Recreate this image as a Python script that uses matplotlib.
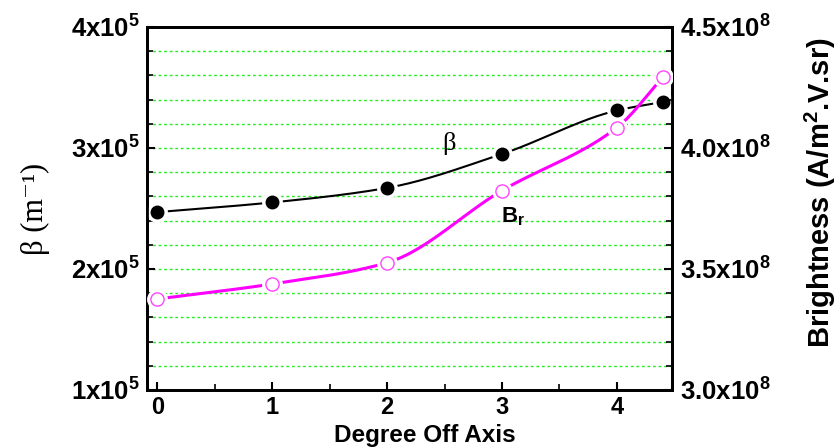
import matplotlib
matplotlib.use('Agg')
import matplotlib.pyplot as plt
import numpy as np
from matplotlib.ticker import MultipleLocator, FuncFormatter

# data
degree = [0, 1, 2, 3, 4, 4.4]
beta = [2.47e5, 2.55e5, 2.67e5, 2.95e5, 3.31e5, 3.38e5]
bright = [3.376e8, 3.438e8, 3.526e8, 3.824e8, 4.084e8, 4.292e8]

plt.rcParams['font.family'] = ['Liberation Sans', 'DejaVu Sans']
plt.rcParams['font.weight'] = 'bold'
plt.rcParams['axes.labelweight'] = 'bold'
plt.rcParams['mathtext.fontset'] = 'custom'
plt.rcParams['mathtext.rm'] = 'Liberation Sans:bold'
plt.rcParams['mathtext.it'] = 'Liberation Sans:bold'
plt.rcParams['mathtext.bf'] = 'Liberation Sans:bold'


def smooth(x, y, n=200):
    # monotone cubic (pchip-like) curve through the points, for drawing only
    x = np.asarray(x, float)
    y = np.asarray(y, float)
    h = np.diff(x)
    d = np.diff(y) / h
    m = np.zeros_like(y)
    for k in range(1, len(x) - 1):
        if d[k - 1] * d[k] > 0:
            w1 = 2 * h[k] + h[k - 1]
            w2 = h[k] + 2 * h[k - 1]
            m[k] = (w1 + w2) / (w1 / d[k - 1] + w2 / d[k])
    m[0] = d[0]
    m[-1] = d[-1]
    xs = np.linspace(x[0], x[-1], n)
    idx = np.clip(np.searchsorted(x, xs) - 1, 0, len(x) - 2)
    t = (xs - x[idx]) / h[idx]
    hh = h[idx]
    ys = ((2 * t**3 - 3 * t**2 + 1) * y[idx] + (t**3 - 2 * t**2 + t) * hh * m[idx]
          + (-2 * t**3 + 3 * t**2) * y[idx + 1] + (t**3 - t**2) * hh * m[idx + 1])
    return xs, ys


fig = plt.figure(figsize=(8.4, 4.48), dpi=100)
ax = fig.add_axes([0.175, 0.1295, 0.625, 0.8103])
ax2 = ax.twinx()

ax.set_xlim(-0.09, 4.48)
ax.set_ylim(1e5, 4e5)
ax2.set_ylim(3e8, 4.5e8)

# grid (dotted green) on every minor step of left axis
for g in np.arange(1.2e5, 4e5, 2e4):
    ax.axhline(g, color='#22ee22', ls=(0, (2, 2)), lw=1.0, zorder=0)

xs, ys = smooth(degree, beta)
ax.plot(xs, ys, color='black', lw=1.5, zorder=2)
ax.plot(degree, beta, 'o', ms=14, color='white', mec='white', zorder=3)
ax.plot(degree, beta, 'o', ms=9, color='black', zorder=4)

xs2, ys2 = smooth(degree, bright)
ax2.plot(xs2, ys2, color='#ff00ff', lw=2.2, zorder=2)
ax2.plot(degree, bright, 'o', ms=14, color='white', mec='white', zorder=3)
ax2.plot(degree, bright, 'o', ms=9.5, mfc='white', mec='#ff44ff', mew=1.0, zorder=4)

ax.text(2.54, 3.04e5, 'β', family=['Liberation Serif', 'DejaVu Serif'],
        fontweight='normal', fontsize=19, ha='center', va='center')
ax.text(3.1, 2.43e5, 'B$_r$', fontsize=16, ha='center', va='center')

ax.yaxis.set_major_locator(MultipleLocator(1e5))
ax.yaxis.set_minor_locator(MultipleLocator(2e4))
ax2.yaxis.set_major_locator(MultipleLocator(0.5e8))
ax2.yaxis.set_minor_locator(MultipleLocator(0.1e8))
ax.xaxis.set_major_locator(MultipleLocator(1))
ax.xaxis.set_minor_locator(MultipleLocator(0.5))

ax.yaxis.set_major_formatter(FuncFormatter(lambda v, p: '%dx10$^{5}$' % round(v / 1e5)))
ax2.yaxis.set_major_formatter(FuncFormatter(lambda v, p: '%.1fx10$^{8}$' % (v / 1e8)))

for a in (ax, ax2):
    for s in a.spines.values():
        s.set_linewidth(2)
ax.tick_params(axis='y', which='major', direction='in', length=6, width=1.5,
               labelsize=18.5, pad=5)
ax.tick_params(axis='x', which='major', direction='in', length=6, width=1.5,
               labelsize=17, pad=4)
ax.tick_params(axis='both', which='minor', direction='in', length=4, width=1.2)
ax2.tick_params(axis='y', which='major', direction='in', length=6, width=1.5,
                labelsize=18.5, pad=6)
ax2.tick_params(axis='y', which='minor', direction='in', length=4, width=1.2)

ax.set_xlabel('Degree Off Axis', fontsize=17.5, fontweight='bold')
ax.xaxis.set_label_coords(0.529, -0.095)
ax.set_ylabel('β (m⁻¹)', family=['Liberation Serif', 'DejaVu Serif'],
              fontweight='normal', fontsize=22)
ax.yaxis.set_label_coords(-0.185, 0.5)
ax2.set_ylabel('Brightness (A/m$^{2}$.V.sr)', fontsize=21, fontweight='bold')
ax2.yaxis.set_label_coords(1.25, 0.545)

fig.savefig('out.png', dpi=100)
